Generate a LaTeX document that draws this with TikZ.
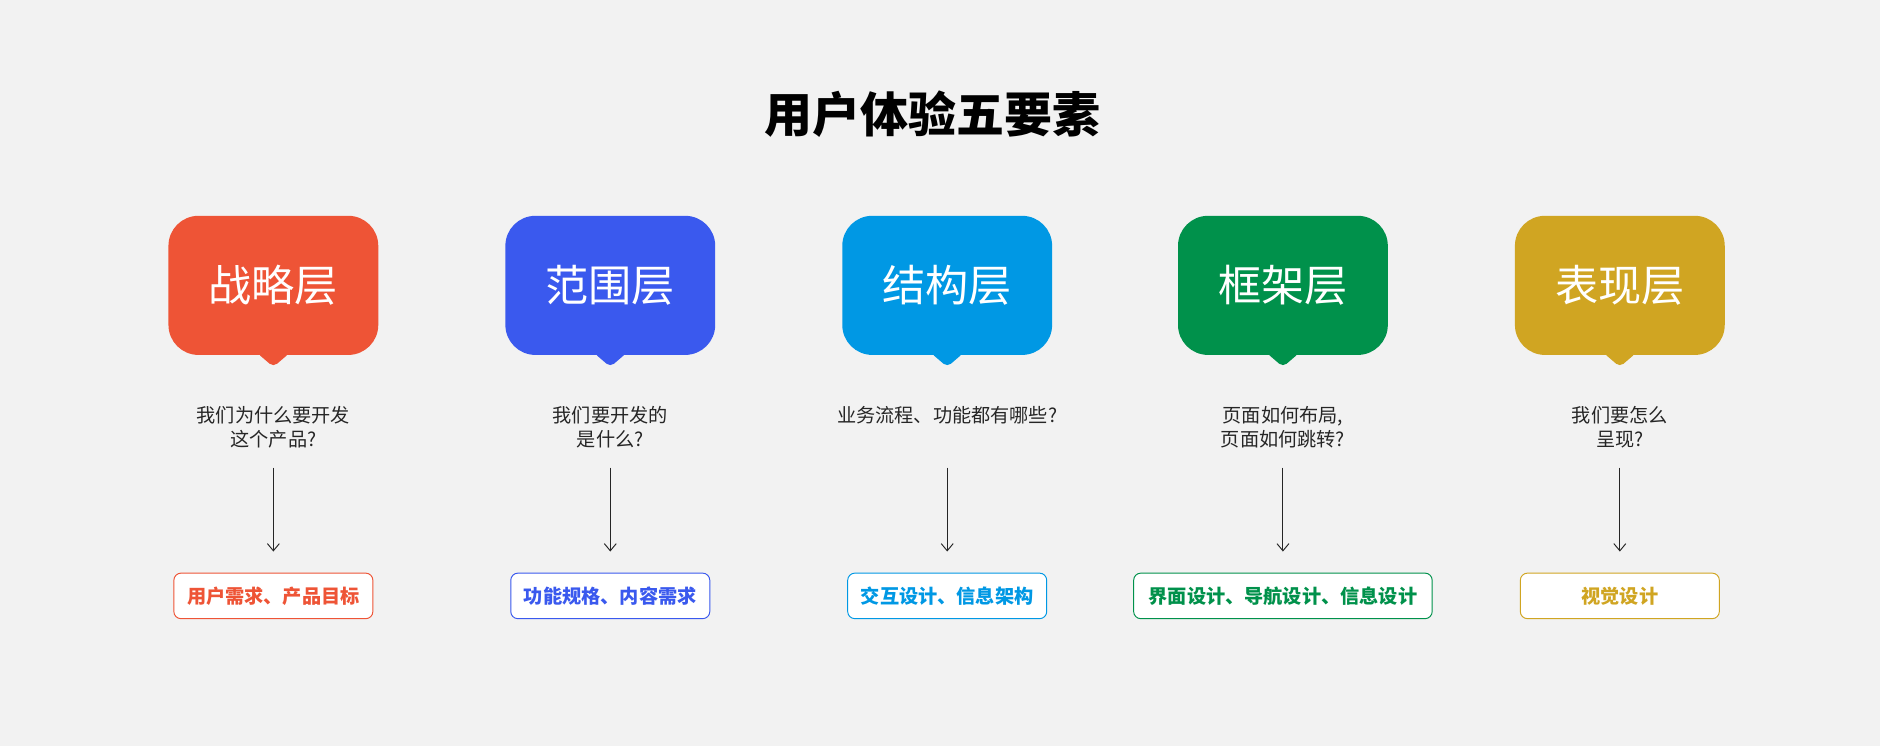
\documentclass[tikz,border=0pt]{standalone}
\usepackage{fontspec}
\setmainfont{Noto Sans CJK SC}
\usetikzlibrary{arrows.meta}
\definecolor{bgc}{HTML}{F2F2F2}
\definecolor{cred}{HTML}{EE5436}
\definecolor{cblue}{HTML}{3A59EE}
\definecolor{ccyan}{HTML}{0098E4}
\definecolor{cgreen}{HTML}{00914B}
\definecolor{cgold}{HTML}{D0A522}
\tikzset{
  bubble/.style={fill=#1, text=white, minimum width=87.5pt, minimum height=58pt, rounded corners=12.5pt, inner sep=0pt, font=\fontsize{18}{20}\selectfont},
  ask/.style={align=center, text=black!85, font=\fontsize{8}{10}\selectfont},
  tagbox/.style={draw=#1, text=#1, fill=white, minimum height=19pt, rounded corners=3pt, font=\bfseries\fontsize{8}{10}\selectfont},
}
\begin{document}
\begin{tikzpicture}[x=0.5pt, y=-0.5pt, >={Straight Barb[length=3pt,width=5pt]}]
	\fill[bgc] (0,0) rectangle (1568,622);
	\useasboundingbox (0,0) rectangle (1568,622);
	\node (title) at (778,95) {\bfseries\fontsize{20}{24}\selectfont 用户体验五要素};
	\foreach \x/\c/\name/\q/\t/\w [count=\i] in {
		228/cred/战略层/{我们为什么要开发\\这个产品?}/{用户需求、产品目标}/83,
		509/cblue/范围层/{我们要开发的\\是什么?}/{功能规格、内容需求}/83,
		790/ccyan/结构层/{业务流程、功能都有哪些?}/{交互设计、信息架构}/83,
		1070/cgreen/框架层/{页面如何布局,\\页面如何跳转?}/{界面设计、导航设计、信息设计}/124.5,
		1351/cgold/表现层/{我们要怎么\\呈现?}/{视觉设计}/83} {
		\fill[\c, rounded corners=2pt] (\x-14,294) -- (\x,306) -- (\x+14,294) -- cycle;
		\node[bubble=\c] (layer\i) at (\x,238) {\name};
		\node[ask, anchor=north] (ask\i) at (\x,332) {\q};
		\coordinate (top\i) at (\x,390);
		\coordinate (end\i) at (\x,460);
		\node[tagbox=\c, minimum width=\w pt] (tag\i) at (\x,497) {\t};
		\draw[->, black!85, thin] (top\i) -- (end\i);
	}
\end{tikzpicture}
\end{document}
